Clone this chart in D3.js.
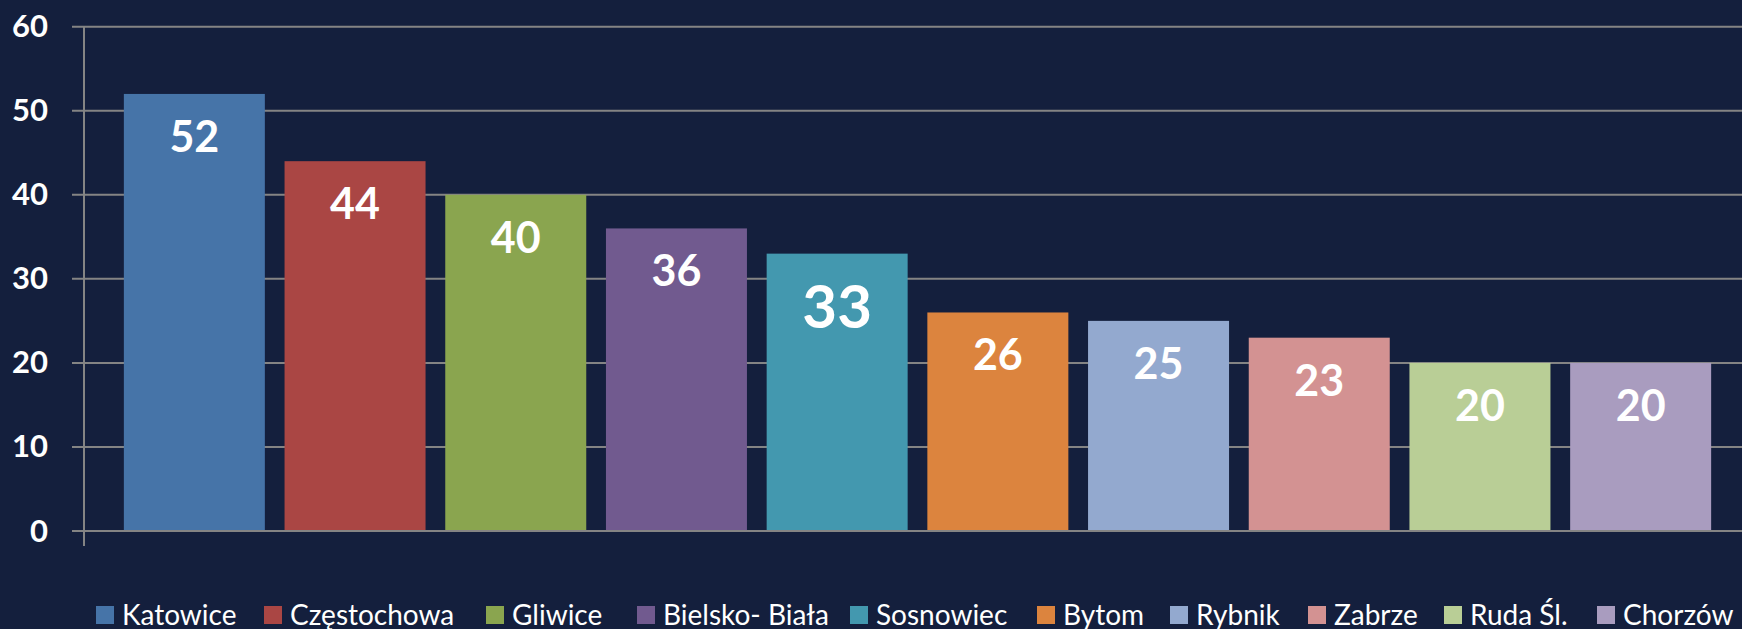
<!DOCTYPE html>
<html>
<head>
<meta charset="utf-8">
<script src="https://cdn.jsdelivr.net/npm/d3@7"></script>
<style>
  html, body { margin: 0; padding: 0; background: #141F3D; }
  svg { display: block; }
</style>
</head>
<body>
<svg id="chart" width="1742" height="629"></svg>
<script>
const categories = ["Katowice", "Częstochowa", "Gliwice", "Bielsko- Biała", "Sosnowiec", "Bytom", "Rybnik", "Zabrze", "Ruda Śl.", "Chorzów"];
const values = [52, 44, 40, 36, 33, 26, 25, 23, 20, 20];
const colors = ["#4674A8", "#AA4644", "#8AA54F", "#715A8F", "#4398AF", "#DC843E", "#93A9CF", "#D39292", "#B9CE96", "#A99CBF"];
const yTicks = [0, 10, 20, 30, 40, 50, 60];

const W = 1742, H = 629;
const svg = d3.select("#chart");
const font = "Lato, 'Open Sans', sans-serif";

svg.append("rect").attr("width", W).attr("height", H).attr("fill", "#141F3D");

const y = d3.scaleLinear().domain([0, 60]).range([531, 26.7]);
const x = d3.scaleBand().domain(categories).range([114, 1721]).paddingInner(0.1226).paddingOuter(0.0613);

const axisX = 84, gridX0 = 72;

// gridlines
svg.append("g").selectAll("line").data(yTicks).join("line")
  .attr("x1", gridX0).attr("x2", W)
  .attr("y1", d => y(d)).attr("y2", d => y(d))
  .attr("stroke", "#848484").attr("stroke-width", 2);

// bars
svg.append("g").selectAll("rect").data(categories).join("rect")
  .attr("x", d => x(d))
  .attr("width", x.bandwidth())
  .attr("y", (d, i) => y(values[i]))
  .attr("height", (d, i) => y(0) - y(values[i]))
  .attr("fill", (d, i) => colors[i]);

// baseline
svg.append("line").attr("x1", gridX0).attr("x2", W).attr("y1", y(0)).attr("y2", y(0))
  .attr("stroke", "#848484").attr("stroke-width", 2);

// y axis line
svg.append("line").attr("x1", axisX).attr("x2", axisX).attr("y1", y(60)).attr("y2", 546)
  .attr("stroke", "#848484").attr("stroke-width", 2);

// y tick labels
svg.append("g").selectAll("text").data(yTicks).join("text")
  .attr("x", 48).attr("y", d => y(d) + 10.5)
  .attr("text-anchor", "end")
  .attr("font-family", font).attr("font-weight", 700).attr("font-size", 31)
  .attr("fill", "#FFFFFF")
  .text(d => d);

// value labels
const emphasized = "Sosnowiec";
svg.append("g").selectAll("text").data(categories).join("text")
  .attr("x", d => x(d) + x.bandwidth() / 2)
  .attr("y", (d, i) => y(values[i]) + (d === emphasized ? 74 : 58))
  .attr("text-anchor", "middle")
  .attr("font-family", font).attr("font-weight", 700)
  .attr("font-size", d => d === emphasized ? 60 : 43)
  .attr("fill", "#FFFFFF")
  .text((d, i) => values[i]);

// legend
const legendX = [96, 264, 486, 637, 850, 1037, 1170, 1308, 1444, 1597];
const lg = svg.append("g").selectAll("g").data(categories).join("g")
  .attr("transform", (d, i) => `translate(${legendX[i]},606)`);
lg.append("rect").attr("width", 18).attr("height", 18).attr("fill", (d, i) => colors[i]);
lg.append("text").attr("x", 26).attr("y", 18.5)
  .attr("font-family", font).attr("font-size", 28).attr("fill", "#FFFFFF")
  .text(d => d);
</script>
</body>
</html>
